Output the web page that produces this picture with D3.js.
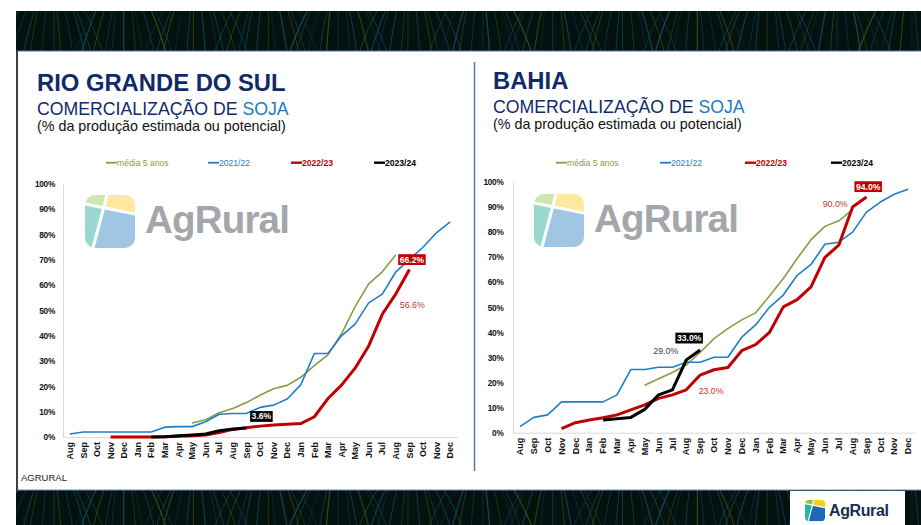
<!DOCTYPE html>
<html>
<head>
<meta charset="utf-8">
<script src="https://cdn.jsdelivr.net/npm/d3@7"></script>
<style>
  body { margin: 0; background: #fff; }
  svg { display: block; font-family: "Liberation Sans", Arial, sans-serif; }
</style>
</head>
<body>
<svg id="chart" width="921" height="525"></svg>
<script>
// month ticks (Aug of year 1 .. Dec of year 3)
const months = ["Aug","Sep","Oct","Nov","Dec","Jan","Feb","Mar","Apr","May","Jun","Jul",
  "Aug","Sep","Oct","Nov","Dec","Jan","Feb","Mar","Apr","May","Jun","Jul",
  "Aug","Sep","Oct","Nov","Dec"];
const yTicks = [0,10,20,30,40,50,60,70,80,90,100];
const seriesNames = ["média 5 anos","2021/22","2022/23","2023/24"];

// Rio Grande do Sul, % commercialised (start index into months + values)
const rsMedia = { start: 9, values: [5.5,6.8,9.6,11.3,13.6,16.5,19.1,20.4,23.6,28.2,32.5,40.8,51.5,60.5,65.3,72] };
const rs2122  = { start: 0, values: [1.2,2,2,2,2,2,2,3.9,4.1,4.1,6,9,9.3,9.3,11.7,12.6,15,20.6,33,33,40,44.6,53,56.5,65.3,70.2,75,80.8,85] };
const rs2223  = { start: 3, values: [0,0,0,0,0.1,0.3,0.5,0.8,1.8,3,3.7,4.3,4.7,5,5.3,8,15.2,20.5,27.2,36,48.5,56.6,66.2] };
const rs2324  = { start: 6, values: [0,0.1,0.5,0.8,1.2,2.5,3.2,3.6] };

// Bahia
const baMedia = { start: 9, values: [18.9,21.5,24,27,32,37.5,41.5,45,47.8,54.5,61.5,69.5,77,82.3,84.5,89] };
const ba2122  = { start: 0, values: [2.4,6.1,7.1,12.3,12.3,12.3,12.3,15.1,25.2,25.2,26.1,26.1,28.1,28.1,30.1,30.1,38.1,43,50,54.9,62.8,67.1,75.2,76,80,88,92,95.1,97.1] };
const ba2223  = { start: 3, values: [1.6,4,5.1,6,7.1,9.1,11.1,13.7,15.1,17.1,23,25.1,26,32.7,35.1,40,50.2,53.1,58.2,69.9,74.8,90,94] };
const ba2324  = { start: 6, values: [5.1,5.6,6.1,9.3,15.1,17.1,29,33] };

const colors = ["#8a9b45", "#1f7ec6", "#c00000", "#000000"];
const widths = [1.6, 1.6, 3, 3];

const svg = d3.select("#chart");
let clipCount = 0;

// ---------- slide decoration (banners, borders) ----------
function banner(y0, h) {
  const id = "bclip" + (clipCount++);
  svg.append("clipPath").attr("id", id)
    .append("rect").attr("x", 16).attr("y", y0).attr("width", 905).attr("height", h);
  const g = svg.append("g").attr("clip-path", `url(#${id})`);
  g.append("rect").attr("x", 16).attr("y", y0).attr("width", 905).attr("height", h).attr("fill", "#03110f");
  const stripeCols = ["#0d3f52", "#0b3446", "#124d5e", "#2c4210", "#0a2c3a", "#10465a", "#3a4d12"];
  for (let k = 0; k < 142; k++) {
    const x = 18 + k * 6.5 + (k % 3) * 1.7;
    const bend = ((k % 11) - 5) * 1.6;
    g.append("path")
      .attr("d", `M${x},${y0} C${x + bend},${y0 + h * 0.35} ${x + bend * 1.6},${y0 + h * 0.7} ${x + bend * 2.2},${y0 + h}`)
      .attr("fill", "none")
      .attr("stroke", stripeCols[k % stripeCols.length])
      .attr("stroke-width", (k % 4 === 0) ? 1.3 : 0.8)
      .attr("opacity", 0.9);
  }
  return g;
}
banner(11, 40);
svg.append("line").attr("x1", 16).attr("x2", 921).attr("y1", 51).attr("y2", 51).attr("stroke", "#5a78ad").attr("stroke-width", 1.2);
banner(490, 35);
svg.append("line").attr("x1", 16).attr("x2", 921).attr("y1", 490).attr("y2", 490).attr("stroke", "#6f8fbf").attr("stroke-width", 1);
svg.append("line").attr("x1", 17).attr("x2", 17).attr("y1", 51).attr("y2", 490).attr("stroke", "#000").attr("stroke-width", 1.5);
svg.append("line").attr("x1", 474.5).attr("x2", 474.5).attr("y1", 62).attr("y2", 471).attr("stroke", "#5b73b3").attr("stroke-width", 1.5);

svg.append("text").attr("x", 21).attr("y", 481).attr("font-size", 9.5).attr("fill", "#222").text("AGRURAL");

// logo icon: rounded square in four coloured parts
function logoIcon(g, s, cols) {
  const id = "lclip" + (clipCount++);
  g.append("clipPath").attr("id", id)
    .append("rect").attr("width", 50 * s).attr("height", 53 * s).attr("rx", 10 * s);
  const c = g.append("g").attr("clip-path", `url(#${id})`);
  const P = pts => pts.map(p => [p[0] * s, p[1] * s]);
  const poly = (pts, col) => c.append("path").attr("d", d3.line()(P(pts)) + "Z").attr("fill", col);
  poly([[0,0],[22,0],[20.3,12.3],[0,9]], cols[0]);
  poly([[22,0],[50,0],[50,19],[20.3,12.3]], cols[1]);
  poly([[0,9],[20.3,12.3],[8,53],[0,53]], cols[2]);
  poly([[20.3,12.3],[50,19],[50,53],[8,53]], cols[3]);
  c.append("path").attr("d", d3.line()(P([[22,0],[8,53]]))).attr("stroke", "#fff").attr("stroke-width", 3 * s);
  c.append("path").attr("d", d3.line()(P([[0,9],[50,19]]))).attr("stroke", "#fff").attr("stroke-width", 3 * s);
}

// bottom-right logo
svg.append("rect").attr("x", 790).attr("y", 491).attr("width", 115).attr("height", 34).attr("fill", "#fff");
const bl = svg.append("g").attr("transform", "translate(805,500)");
logoIcon(bl, 0.4, ["#8cc63f", "#f5cf1c", "#27b5a3", "#1f68b8"]);
svg.append("text").attr("x", 829).attr("y", 516).attr("font-size", 16).attr("font-weight", "bold")
  .attr("letter-spacing", -0.4).attr("fill", "#1d2b52").text("AgRural");

// ---------- panels ----------
function drawPanel(cfg) {
  const g = svg.append("g");

  // titles
  g.append("text").attr("x", cfg.tx).attr("y", cfg.ty).attr("font-size", 23.8).attr("font-weight", "bold")
    .attr("fill", "#102a6a").text(cfg.title);
  const t2 = g.append("text").attr("x", cfg.tx).attr("y", cfg.ty + 24).attr("font-size", 17.7).attr("fill", "#102a6a");
  t2.append("tspan").text("COMERCIALIZAÇÃO DE ");
  t2.append("tspan").attr("fill", "#1b7bc4").text("SOJA");
  g.append("text").attr("x", cfg.tx).attr("y", cfg.ty + 40).attr("font-size", 14.3).attr("fill", "#111")
    .text("(% da produção estimada ou potencial)");

  // legend
  seriesNames.forEach((name, i) => {
    const lx = cfg.legendX[i];
    g.append("line").attr("x1", lx).attr("x2", lx + 11).attr("y1", 162.7).attr("y2", 162.7)
      .attr("stroke", colors[i]).attr("stroke-width", i >= 2 ? 2.4 : 1.8);
    g.append("text").attr("x", lx + 11).attr("y", 165.8).attr("font-size", 8.6)
      .attr("font-weight", i >= 2 ? "bold" : "normal").attr("fill", i === 0 ? "#8a9b45" : colors[i]).text(name);
  });

  const x = d3.scaleBand().domain(d3.range(months.length)).range([cfg.x0, cfg.x1]);
  const y = d3.scaleLinear().domain([0, 100]).range([cfg.y0, cfg.y1]);
  const cx = i => x(i) + x.bandwidth() / 2;

  // watermark logo
  const wm = g.append("g").attr("transform", `translate(${cfg.logoX},${cfg.logoY})`).attr("opacity", 0.9);
  logoIcon(wm, 1, ["#c9e4a8", "#fde793", "#8fd4c9", "#95c0e3"]);
  g.append("text").attr("x", cfg.logoX + 60).attr("y", cfg.logoY + 38).attr("font-size", 38.5).attr("font-weight", "bold")
    .attr("letter-spacing", -0.8).attr("fill", "#a3a6aa").text("AgRural");

  // axes
  const yAxis = d3.axisLeft(y).tickValues(yTicks).tickSize(0).tickPadding(cfg.yPad).tickFormat(d => d + "%");
  const ya = g.append("g").attr("transform", `translate(${cfg.x0},0)`).call(yAxis);
  ya.select(".domain").attr("stroke", "#d9d9d9");
  ya.selectAll("text").attr("font-size", 8.3).attr("font-weight", "bold").attr("letter-spacing", -0.3)
    .attr("fill", "#111").attr("font-family", "'Liberation Sans', Arial, sans-serif");

  const xAxis = d3.axisBottom(x).tickSize(0).tickPadding(0).tickFormat(i => months[i]);
  const xa = g.append("g").attr("transform", `translate(0,${cfg.y0})`).call(xAxis);
  xa.select(".domain").attr("stroke", "#d9d9d9");
  xa.selectAll("text").attr("font-size", 9).attr("font-weight", "bold").attr("fill", "#111")
    .attr("font-family", "'Liberation Sans', Arial, sans-serif")
    .attr("text-anchor", "end").attr("dy", "0.35em").attr("dx", 0)
    .attr("transform", "translate(0,5) rotate(-90)").attr("x", 0).attr("y", 0);

  // series lines
  const line = d3.line().x(d => cx(d.i)).y(d => y(d.v));
  cfg.series.forEach((s, k) => {
    const pts = s.values.map((v, j) => ({ i: s.start + j, v }));
    g.append("path").datum(pts).attr("d", line).attr("fill", "none")
      .attr("stroke", colors[k]).attr("stroke-width", widths[k]).attr("stroke-linejoin", "round");
  });

  // data labels
  cfg.labels.forEach(l => {
    const s = cfg.series[l.s];
    const v = s.values[l.i - s.start];
    const px = cx(l.i), py = y(v);
    const txt = v.toFixed(1) + "%";
    if (l.box) {
      const w = txt.length * 4.9 + 3;
      const bx = px + l.dx - w / 2, by = py - l.gap - 10.8;
      g.append("rect").attr("x", bx).attr("y", by).attr("width", w).attr("height", 10.8).attr("fill", l.fill);
      g.append("text").attr("x", px + l.dx).attr("y", by + 8.4).attr("text-anchor", "middle")
        .attr("font-size", 8.6).attr("font-weight", "bold").attr("fill", "#fff").text(txt);
    } else {
      g.append("text").attr("x", px + l.dx).attr("y", py + l.dy + 3.2).attr("text-anchor", l.anchor)
        .attr("font-size", 8.8).attr("fill", l.fill).text(txt);
    }
  });
}

drawPanel({
  title: "RIO GRANDE DO SUL", tx: 37, ty: 91,
  legendX: [106, 208, 291, 374],
  x0: 63, x1: 457, y0: 437, y1: 184, yPad: 8,
  logoX: 85, logoY: 195,
  series: [rsMedia, rs2122, rs2223, rs2324],
  labels: [
    { s: 2, i: 25, box: true, fill: "#c00000", dx: 2.5, gap: 4.5 },
    { s: 2, i: 24, box: false, fill: "#c0392b", dx: 4, dy: 11, anchor: "start" },
    { s: 3, i: 13, box: true, fill: "#000", dx: 15, gap: 6 }
  ]
});

drawPanel({
  title: "BAHIA", tx: 493, ty: 88.5,
  legendX: [556, 660, 745, 831],
  x0: 513, x1: 915, y0: 432.7, y1: 182, yPad: 9.5,
  logoX: 534, logoY: 194,
  series: [baMedia, ba2122, ba2223, ba2324],
  labels: [
    { s: 2, i: 25, box: true, fill: "#c00000", dx: 1.7, gap: 5 },
    { s: 2, i: 24, box: false, fill: "#b83a36", dx: -5, dy: -3, anchor: "end" },
    { s: 2, i: 13, box: false, fill: "#c0392b", dx: -1.5, dy: 15.7, anchor: "start" },
    { s: 3, i: 13, box: true, fill: "#000", dx: -11, gap: 6.5 },
    { s: 3, i: 12, box: false, fill: "#404040", dx: -8, dy: -9.3, anchor: "end" }
  ]
});
</script>
</body>
</html>
